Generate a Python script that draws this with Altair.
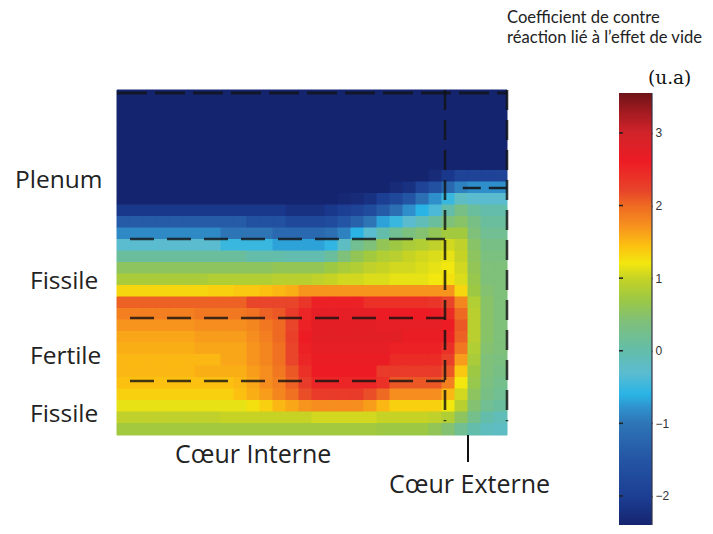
import altair as alt
import pandas as pd

N = -2.4
heat_rows = [
 [N]*30, [N]*30, [N]*30, [N]*30, [N]*30, [N]*30, [N]*30,
 [N,N,N,N,N,N,N,N,N,N,N,N,N,N,N,N,N,N,N,N,N,N,N,N,-2.3,-2.1,-1.9,-1.9,-1.9,-1.9],
 [N,N,N,N,N,N,N,N,N,N,N,N,N,N,N,N,N,N,N,N,N,-2.3,-2.2,-1.9,-1.6,-1.2,-0.9,-0.8,-0.8,-0.8],
 [N,N,N,N,N,N,N,N,N,N,N,N,N,N,N,N,N,-2.35,-2.3,-2.2,-2.0,-1.8,-1.5,-1.1,-0.8,-0.5,-0.2,-0.3,-0.3,-0.3],
 [-2.1,-2.1,-2.1,-2.1,-2.1,-2.1,-2.1,-2.1,-2.1,-2.1,-2.1,-2.1,-2.1,-2.2,-2.2,-2.2,-2.1,-2.0,-1.9,-1.7,-1.4,-1.1,-0.8,-0.6,-0.4,0.0,0.3,0.1,0.0,0.0],
 [-1.4,-1.4,-1.4,-1.4,-1.4,-1.4,-1.4,-1.4,-1.4,-1.4,-1.6,-1.6,-1.6,-1.8,-1.8,-1.8,-1.7,-1.5,-1.3,-1.0,-0.7,-0.5,-0.3,-0.1,0.1,0.4,0.5,0.3,0.1,0.1],
 [-0.85,-0.85,-0.85,-0.85,-0.85,-0.85,-0.85,-0.85,-1.0,-1.0,-1.0,-1.0,-1.2,-1.2,-1.2,-1.2,-1.1,-0.9,-0.6,-0.3,0.0,0.2,0.35,0.45,0.6,0.75,0.75,0.4,0.2,0.2],
 [-0.3,-0.3,-0.3,-0.3,-0.3,-0.3,-0.3,-0.3,-0.5,-0.5,-0.5,-0.5,-0.7,-0.7,-0.7,-0.7,-0.55,-0.2,0.2,0.4,0.6,0.7,0.8,0.85,0.95,1.05,0.95,0.5,0.3,0.3],
 [0.1,0.1,0.1,0.1,0.1,0.1,0.1,0.1,0.1,0.1,0.0,0.0,0.0,-0.05,-0.05,-0.05,0.1,0.4,0.6,0.75,0.85,0.9,1.0,1.05,1.1,1.15,1.0,0.55,0.35,0.35],
 [0.55,0.55,0.55,0.55,0.55,0.55,0.55,0.55,0.55,0.55,0.55,0.55,0.6,0.6,0.6,0.6,0.7,0.8,0.85,0.95,1.0,1.05,1.05,1.1,1.15,1.2,1.05,0.6,0.4,0.4],
 [0.8,0.8,0.8,0.8,0.8,0.8,0.8,0.85,0.85,0.85,0.85,0.85,0.9,0.9,0.9,0.95,1.0,1.05,1.05,1.1,1.1,1.15,1.15,1.15,1.2,1.25,1.1,0.65,0.4,0.4],
 [1.3,1.3,1.3,1.3,1.3,1.3,1.3,1.35,1.35,1.4,1.4,1.45,1.5,1.55,1.7,1.7,1.7,1.7,1.7,1.7,1.7,1.7,1.7,1.7,1.7,1.7,1.3,0.7,0.45,0.4],
 [2.05,2.05,2.05,2.05,2.05,2.05,2.05,2.05,2.05,2.05,2.2,2.2,2.2,2.2,2.35,2.55,2.55,2.55,2.55,2.4,2.4,2.4,2.4,2.4,2.35,2.2,1.8,0.85,0.5,0.4],
 [1.85,1.85,1.85,1.85,1.85,1.85,1.9,1.9,1.9,1.9,1.95,2.05,2.1,2.3,2.5,2.7,2.7,2.7,2.7,2.7,2.6,2.6,2.6,2.6,2.6,2.45,2.0,0.9,0.5,0.4],
 [1.7,1.7,1.7,1.7,1.7,1.7,1.75,1.75,1.75,1.75,1.8,1.9,2.0,2.2,2.55,2.75,2.75,2.75,2.75,2.75,2.7,2.7,2.7,2.7,2.7,2.6,2.1,0.9,0.5,0.4],
 [1.6,1.6,1.6,1.6,1.6,1.6,1.65,1.65,1.65,1.65,1.75,1.85,2.0,2.25,2.6,2.75,2.75,2.75,2.75,2.75,2.75,2.75,2.65,2.65,2.65,2.55,2.05,0.9,0.5,0.4],
 [1.55,1.55,1.55,1.55,1.55,1.55,1.6,1.6,1.6,1.6,1.7,1.8,1.95,2.2,2.55,2.7,2.7,2.7,2.7,2.7,2.7,2.55,2.55,2.55,2.55,2.4,1.9,0.85,0.45,0.4],
 [1.5,1.5,1.5,1.5,1.5,1.5,1.5,1.5,1.6,1.6,1.7,1.8,1.95,2.2,2.5,2.65,2.65,2.65,2.65,2.65,2.65,2.45,2.45,2.45,2.45,2.25,1.65,0.8,0.4,0.35],
 [1.5,1.5,1.5,1.5,1.5,1.5,1.55,1.55,1.55,1.55,1.65,1.75,1.9,2.1,2.4,2.6,2.6,2.6,2.6,2.6,2.3,2.3,2.3,2.3,2.3,2.1,1.4,0.7,0.4,0.3],
 [1.45,1.45,1.45,1.45,1.45,1.45,1.45,1.45,1.45,1.5,1.6,1.75,1.85,2.05,2.3,2.5,2.5,2.5,2.5,2.5,2.4,2.1,2.1,2.1,2.1,1.85,1.2,0.65,0.35,0.25],
 [1.35,1.35,1.35,1.35,1.35,1.35,1.35,1.35,1.35,1.45,1.55,1.65,1.8,1.95,2.15,2.3,2.3,2.3,2.3,2.15,2.0,1.75,1.75,1.75,1.75,1.5,1.05,0.55,0.3,0.2],
 [1.15,1.15,1.15,1.15,1.15,1.15,1.15,1.15,1.15,1.15,1.25,1.35,1.5,1.6,1.7,1.75,1.75,1.75,1.75,1.65,1.5,1.35,1.35,1.35,1.35,1.2,0.9,0.45,0.2,0.1],
 [0.95,0.95,0.95,0.95,0.95,0.95,0.95,0.95,1.0,1.0,1.0,1.0,1.0,1.0,1.0,1.05,1.05,1.05,1.05,1.05,1.0,1.0,1.0,1.0,0.95,0.85,0.55,0.25,0.0,-0.1],
 [0.75,0.75,0.75,0.75,0.75,0.75,0.75,0.75,0.75,0.75,0.75,0.75,0.75,0.75,0.75,0.75,0.75,0.75,0.75,0.75,0.7,0.7,0.7,0.7,0.6,0.45,0.2,0.0,-0.15,-0.2],
]

cmap_values = [-2.4, -2.0, -1.5, -1.0, -0.8, -0.6, -0.3, 0.0, 0.4, 0.7, 1.0, 1.2, 1.45, 1.7, 2.0, 2.2, 2.6, 3.0, 3.3, 3.55]
cmap_colors = ["#15246f", "#1c3f94", "#2455a4", "#2e75b6", "#2f8fca", "#2ab4e6", "#5bbcd0", "#63bdaa",
               "#7fc07a", "#9cc844", "#c6d325", "#f2e70f", "#fcc010", "#f7941e", "#ee6a22", "#e8452a",
               "#ed1c24", "#d2232a", "#a01a20", "#6e1418"]

cbar_ticks = [-2, -1, 0, 1, 2, 3]
h_dash_y = [12.96, 19.83, 25.3]
h_dash_x0 = [1.0, 1.0, 1.0]
h_dash_x1 = [25.23, 25.23, 25.23]

rows = []
for r, vals in enumerate(heat_rows):
    for c, v in enumerate(vals):
        rows.append({"c0": c, "c1": c + 1, "r0": r, "r1": r + 1, "v": v})
df = pd.DataFrame(rows)

color_scale = alt.Scale(domain=cmap_values, range=cmap_colors, interpolate="rgb")
X = alt.Scale(domain=[0, 30], range=[109, 499])
Y = alt.Scale(domain=[0, 30], range=[82, 427])

heat = alt.Chart(df).mark_rect(strokeWidth=1).encode(
    x=alt.X("c0:Q", scale=X, axis=None), x2="c1:Q",
    y=alt.Y("r0:Q", scale=Y, axis=None), y2="r1:Q",
    color=alt.Color("v:Q", scale=color_scale, legend=None),
    stroke=alt.Stroke("v:Q", scale=color_scale, legend=None),
)

dash = [24, 13]
hl = alt.Chart(pd.DataFrame({"x0": h_dash_x0, "x1": h_dash_x1, "y": h_dash_y})).mark_rule(
    color="#111", strokeWidth=2.6, strokeDash=dash, opacity=0.8
).encode(x=alt.X("x0:Q", scale=X, axis=None), x2="x1:Q", y=alt.Y("y:Q", scale=Y, axis=None))
topl = alt.Chart(pd.DataFrame({"x0": [0.0], "x1": [30.0], "y": [0.25]})).mark_rule(
    color="#111", strokeWidth=3, strokeDash=[30, 8], opacity=0.75
).encode(x=alt.X("x0:Q", scale=X, axis=None), x2="x1:Q", y=alt.Y("y:Q", scale=Y, axis=None))
outer = alt.Chart(pd.DataFrame({"x0": [26.6], "x1": [30.0], "y": [8.52]})).mark_rule(
    color="#111", strokeWidth=2.6, strokeDash=[18, 8], opacity=0.85
).encode(x=alt.X("x0:Q", scale=X, axis=None), x2="x1:Q", y=alt.Y("y:Q", scale=Y, axis=None))
vl = alt.Chart(pd.DataFrame({"x": [25.23, 30.0], "y0": [0.0, 0.0], "y1": [28.8, 28.8]})).mark_rule(
    color="#111", strokeWidth=2.6, strokeDash=[20, 10], opacity=0.8
).encode(x=alt.X("x:Q", scale=X, axis=None), y=alt.Y("y0:Q", scale=Y, axis=None), y2="y1:Q")
sep = alt.Chart(pd.DataFrame({"x": [27.0], "y0": [30.0], "y1": [32.35]})).mark_rule(
    color="#111", strokeWidth=2
).encode(x=alt.X("x:Q", scale=X, axis=None), y=alt.Y("y0:Q", scale=Y, axis=None), y2="y1:Q")
heat_layer = alt.layer(heat, hl, topl, outer, vl, sep)

labels = [
    ("Plenum", 7, 173, 24.5, "Open Sans"), ("Fissile", 22, 274, 24.5, "Open Sans"),
    ("Fertile", 22, 349, 24.5, "Open Sans"), ("Fissile", 22, 407, 24.5, "Open Sans"),
    ("Cœur Interne", 167, 447, 25, "Open Sans"), ("Cœur Externe", 381, 477, 25, "Open Sans"),
    ("Coefficient de contre", 499, 10, 16.6, "Lato"), ("réaction lié à l’effet de vide", 499, 30, 16.6, "Lato"),
]
label_layers = [
    alt.Chart(pd.DataFrame({"t": [t]})).mark_text(
        align="left", baseline="middle", font=f, fontSize=s, color="#222"
    ).encode(x=alt.value(x), y=alt.value(y), text="t:N")
    for t, x, y, s, f in labels
]
unit = alt.Chart(pd.DataFrame({"t": ["(u.a)"]})).mark_text(
    align="left", baseline="middle", font="DejaVu Serif", fontSize=18.5, color="#111"
).encode(x=alt.value(640), y=alt.value(70), text="t:N")

BY = alt.Scale(domain=[-2.4, 3.55], range=[517, 85])
lo, hi = cmap_values[0], cmap_values[-1]
grad = alt.Gradient(
    gradient="linear", x1=0, x2=0, y1=1, y2=0,
    stops=[alt.GradientStop(offset=(v - lo) / (hi - lo), color=col) for v, col in zip(cmap_values, cmap_colors)],
)
bar = alt.Chart(pd.DataFrame({"lo": [lo], "hi": [hi]})).mark_rect(color=grad).encode(
    x=alt.value(611), x2=alt.value(644),
    y=alt.Y("hi:Q", scale=BY,
            axis=alt.Axis(orient="right", offset=-57, values=cbar_ticks, title=None, domain=False,
                          grid=False, tickSize=4, tickColor="#222", tickWidth=1.5, labelPadding=3,
                          labelExpr="format(datum.value, 'd')", labelFont="Liberation Sans",
                          labelFontSize=12, labelColor="#333")),
    y2="lo:Q",
)
edge = alt.Chart(pd.DataFrame({"lo": [lo], "hi": [hi]})).mark_rule(color="#334", strokeWidth=1.2).encode(
    x=alt.value(644), y=alt.Y("hi:Q", scale=BY), y2="lo:Q")
lticks = alt.Chart(pd.DataFrame({"v": cbar_ticks})).mark_rule(color="#222", strokeWidth=1.5).encode(
    x=alt.value(611), x2=alt.value(615), y=alt.Y("v:Q", scale=BY))
bar_layer = alt.layer(bar, edge, lticks)

chart = alt.layer(heat_layer, bar_layer, *label_layers, unit).resolve_scale(
    y="independent", x="independent", color="independent", stroke="independent"
).properties(width=697, height=518, padding=0, background="white").configure_view(stroke=None)

chart.save("out.html", embed_options={"renderer": "svg", "actions": False})
